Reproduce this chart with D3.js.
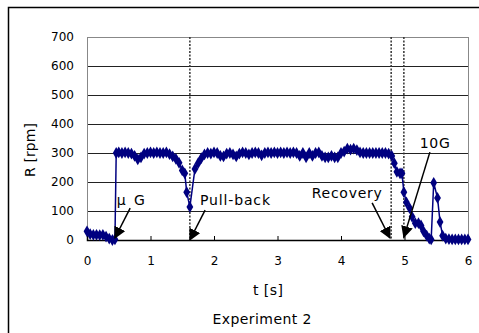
<!DOCTYPE html>
<html><head><meta charset="utf-8">
<script src="https://cdn.jsdelivr.net/npm/d3@7"></script>
<style>html,body{margin:0;padding:0;background:#fff;overflow:hidden}</style>
</head><body>
<svg id="c" width="479" height="333"></svg>
<script>
const times = [0,0.05,0.1,0.15,0.2,0.25,0.3,0.35,0.4,0.44,0.46,0.5,0.55,0.6,0.65,0.7,0.75,0.8,0.85,0.9,0.95,1.0,1.05,1.1,1.15,1.2,1.25,1.3,1.35,1.4,1.45,1.5,1.54,1.57,1.62,1.7,1.75,1.8,1.85,1.9,1.95,2.0,2.05,2.1,2.15,2.2,2.25,2.3,2.35,2.4,2.45,2.5,2.55,2.6,2.65,2.7,2.75,2.8,2.85,2.9,2.95,3.0,3.05,3.1,3.15,3.2,3.25,3.3,3.35,3.4,3.45,3.5,3.55,3.6,3.65,3.7,3.75,3.8,3.85,3.9,3.95,4.0,4.05,4.1,4.15,4.2,4.25,4.3,4.35,4.4,4.45,4.5,4.55,4.6,4.65,4.7,4.75,4.8,4.84,4.88,4.93,4.96,4.99,5.03,5.08,5.12,5.17,5.22,5.26,5.3,5.35,5.39,5.42,5.46,5.52,5.56,5.6,5.65,5.7,5.75,5.8,5.85,5.9,5.95,6.0];
const rpm = [30,20,18,18,17,18,12,5,0,2,300,302,300,302,300,298,290,278,285,298,300,302,300,302,300,300,302,296,288,280,266,240,230,165,114,245,265,282,295,300,298,302,300,290,288,298,300,295,288,298,302,300,295,300,302,300,292,300,302,300,302,300,302,300,302,300,302,300,290,300,285,300,290,300,302,290,285,285,290,285,285,300,305,315,312,315,310,302,300,300,300,300,300,300,300,300,298,290,265,235,230,230,165,130,110,80,58,58,50,30,15,5,2,197,145,62,15,5,3,2,2,2,2,2,2,2];
const yTicks = [0,100,200,300,400,500,600,700];
const xTicks = [0,1,2,3,4,5,6];
const eventTimes = [1.62, 4.79, 4.99];
const annLabels = ["\u03bc G", "Pull-back", "Recovery", "10G"];
const annLabelPos = [[0.47,120],[1.78,120],[3.54,145],[5.24,317]];
const annLabelWidth = [28, 70, 70, 30];
const annArrowFrom = [[0.68,110],[1.86,103],[4.49,128],[5.40,303]];
const annArrowTo = [[0.44,7],[1.62,0],[4.77,7],[4.99,10]];

const svg = d3.select("#c");
const x = d3.scaleLinear().domain([0,6]).range([87,468]);
const y = d3.scaleLinear().domain([0,700]).range([240,37]);
const font = "DejaVu Sans, Arial, sans-serif";

// outer frame
svg.append("rect").attr("x",8.5).attr("y",7.5).attr("width",480).attr("height",340)
  .attr("fill","none").attr("stroke","#000").attr("stroke-width",1.5);

// gridlines
svg.append("g").selectAll("line").data(yTicks.filter(d=>d>0)).join("line")
  .attr("x1",x(0)).attr("x2",x(6)).attr("y1",d=>y(d)+0.5).attr("y2",d=>y(d)+0.5)
  .attr("stroke","#222").attr("stroke-width",1);
// plot border
svg.append("rect").attr("x",x(0)+0.5).attr("y",y(700)+0.5).attr("width",x(6)-x(0)).attr("height",y(0)-y(700))
  .attr("fill","none").attr("stroke","#888").attr("stroke-width",1);

// y axis labels
const yAxis = d3.axisLeft(y).tickValues(yTicks).tickSize(0).tickPadding(13);
const gy = svg.append("g").attr("transform",`translate(${x(0)},0)`).call(yAxis);
gy.select(".domain").remove();
gy.selectAll("text").attr("font-family",font).attr("font-size",12).attr("fill","#000");

// x axis
const xAxis = d3.axisBottom(x).tickValues(xTicks).tickSize(-4).tickPadding(16).tickFormat(d3.format("d"));
const gx = svg.append("g").attr("transform",`translate(0,${y(0)})`).call(xAxis);
gx.select(".domain").attr("stroke","#000").attr("stroke-width",1.5);
gx.selectAll(".tick line").attr("stroke","#000");
gx.selectAll("text").attr("font-family",font).attr("font-size",12).attr("fill","#000");

// event dotted lines
svg.append("g").selectAll("line").data(eventTimes).join("line")
  .attr("x1",d=>x(d)).attr("x2",d=>x(d)).attr("y1",y(700)).attr("y2",y(0))
  .attr("stroke","#333").attr("stroke-width",1.5).attr("stroke-dasharray","2,1.5");

// series
const data = times.map((t,i)=>({t, r: rpm[i]}));
svg.append("path").datum(data)
  .attr("d", d3.line().x(d=>x(d.t)).y(d=>y(d.r)))
  .attr("fill","none").attr("stroke","#000080").attr("stroke-width",1.5);
svg.append("g").selectAll("path").data(data).join("path")
  .attr("d", d3.symbol().type(d3.symbolDiamond).size(40))
  .attr("transform", d=>`translate(${x(d.t)},${y(d.r)})`)
  .attr("fill","#000080");

// arrows
const defs = svg.append("defs");
defs.append("marker").attr("id","ah").attr("viewBox","0 0 10 10").attr("refX",9).attr("refY",5)
  .attr("markerWidth",8).attr("markerHeight",8).attr("orient","auto")
  .append("path").attr("d","M0,0 L10,5 L0,10 z").attr("fill","#000");
svg.append("g").selectAll("line").data(annArrowFrom).join("line")
  .attr("x1",d=>x(d[0])).attr("y1",d=>y(d[1]))
  .attr("x2",(d,i)=>x(annArrowTo[i][0])).attr("y2",(d,i)=>y(annArrowTo[i][1]))
  .attr("stroke","#000").attr("stroke-width",1.5).attr("marker-end","url(#ah)");

// annotation labels
svg.append("g").selectAll("text").data(annLabels).join("text")
  .attr("x",(d,i)=>x(annLabelPos[i][0])).attr("y",(d,i)=>y(annLabelPos[i][1]))
  .attr("font-family",font).attr("font-size",14).attr("fill","#000")
  .attr("textLength",(d,i)=>annLabelWidth[i]).attr("lengthAdjust","spacing")
  .text(d=>d);

// axis titles
svg.append("text").attr("x",268).attr("y",295).attr("text-anchor","middle")
  .attr("font-family",font).attr("font-size",14).attr("textLength",30).attr("lengthAdjust","spacing").text("t [s]");
svg.append("text").attr("transform","translate(35,150) rotate(-90)").attr("text-anchor","middle")
  .attr("font-family",font).attr("font-size",14).attr("textLength",54).attr("lengthAdjust","spacing").text("R [rpm]");
svg.append("text").attr("x",262).attr("y",324).attr("text-anchor","middle")
  .attr("font-family",font).attr("font-size",14).attr("textLength",99).attr("lengthAdjust","spacing").text("Experiment 2");
</script>
</body></html>
